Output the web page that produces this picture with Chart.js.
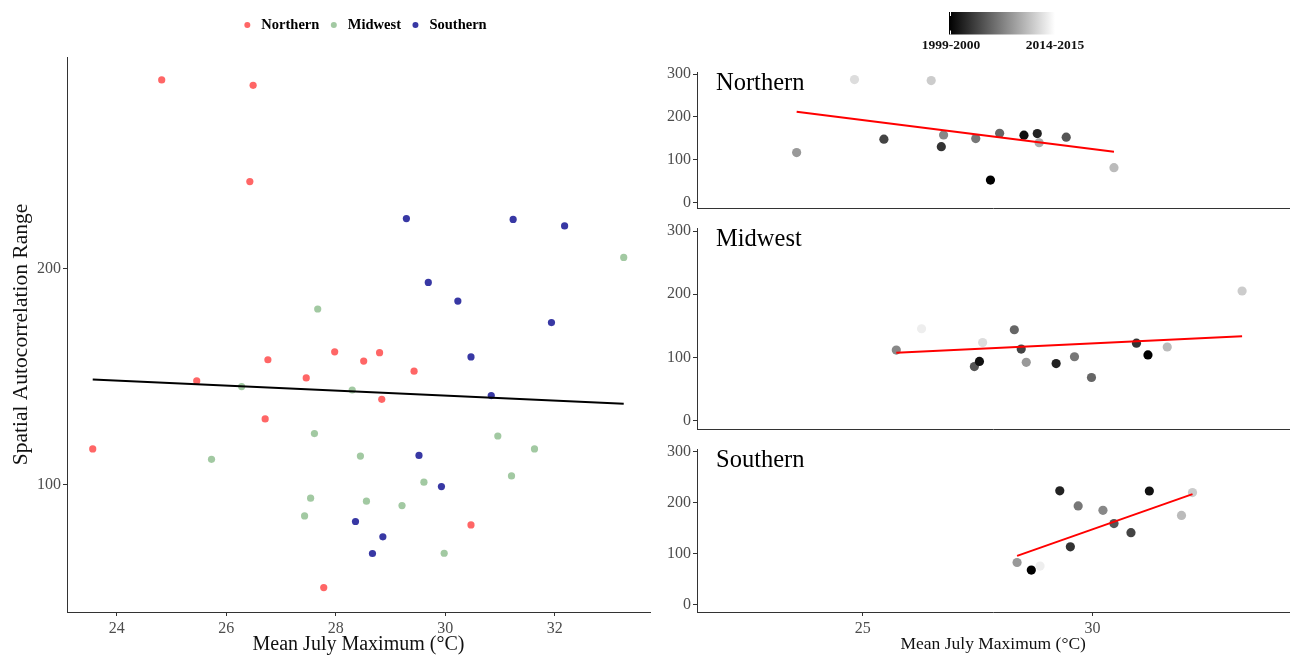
<!DOCTYPE html>
<html>
<head>
<meta charset="utf-8">
<script src="https://cdn.jsdelivr.net/npm/chart.js@4.4.1/dist/chart.umd.min.js"></script>
<style>
  body { margin: 0; background: #fff; }
  #wrap { position: relative; width: 1294px; height: 658px; }
  .box { position: absolute; }
</style>
</head>
<body>
<div id="wrap">
  <div class="box" style="left:0;top:0"><canvas id="allChart" width="660" height="658"></canvas></div>
  <div class="box" style="left:660px;top:0"><canvas id="northChart" width="634" height="220"></canvas></div>
  <div class="box" style="left:660px;top:215px"><canvas id="midChart" width="634" height="226"></canvas></div>
  <div class="box" style="left:660px;top:436px"><canvas id="southChart" width="634" height="222"></canvas></div>
</div>
<script>
// seasons for the grey scale (0 = 1999-2000 ... 15 = 2014-2015)
const seasons = ['1999-2000', '2000-2001', '2001-2002', '2002-2003', '2003-2004', '2004-2005', '2005-2006', '2006-2007',
                 '2007-2008', '2008-2009', '2009-2010', '2010-2011', '2011-2012', '2012-2013', '2013-2014', '2014-2015'];
const regions = ['Northern', 'Midwest', 'Southern'];

const northernTemp   = [23.56, 24.82, 25.46, 26.49, 26.43, 26.71, 26.76, 27.46, 27.78, 27.98, 28.51, 28.80, 28.84, 29.43, 30.47];
const northernRange  = [116.5, 287.4, 148.0, 284.9, 240.3, 130.4, 157.8, 149.4, 52.3, 161.5, 157.2, 161.1, 139.5, 152.5, 81.3];
const northernSeason = [9, 13, 4, 12, 15, 3, 8, 7, 0, 6, 1, 2, 10, 5, 11];

const midwestTemp   = [25.73, 26.28, 27.43, 27.54, 27.61, 27.67, 28.30, 28.45, 28.56, 29.21, 29.61, 29.98, 30.96, 31.21, 31.63, 33.26];
const midwestRange  = [111.7, 145.4, 85.5, 93.7, 123.6, 181.3, 143.8, 113.2, 92.3, 90.3, 101.1, 68.2, 122.5, 104.0, 116.5, 205.2];
const midwestSeason = [8, 14, 5, 1, 13, 15, 6, 4, 9, 2, 7, 6, 3, 0, 11, 12];

const southernTemp   = [28.36, 28.67, 28.86, 29.29, 29.52, 29.69, 29.93, 30.23, 30.47, 30.84, 31.24, 31.94, 32.18];
const southernRange  = [82.9, 68.1, 75.8, 223.2, 113.5, 193.6, 99.1, 185.0, 159.1, 141.2, 222.8, 175.0, 219.8];
const southernSeason = [9, 0, 14, 2, 3, 7, 15, 8, 5, 4, 1, 11, 12];

const xTicksLeft = [24, 26, 28, 30, 32];
const yTicksLeft = [100, 200];
const xTicksPanel = [25, 30];
const yTicksPanel = [0, 100, 200, 300];

const regionColors = ['#ff6666', '#a2c9a2', '#3838a4'];
const serif = '"Liberation Serif", "Times New Roman", serif';

function toPoints(xs, ys) {
    return xs.map((x, i) => ({ x: x, y: ys[i] }));
}

// least squares line over the range of x
function fitLine(xs, ys) {
    const n = xs.length;
    const mx = xs.reduce((a, b) => a + b, 0) / n;
    const my = ys.reduce((a, b) => a + b, 0) / n;
    let sxy = 0, sxx = 0;
    for (let i = 0; i < n; i++) {
        sxy += (xs[i] - mx) * (ys[i] - my);
        sxx += (xs[i] - mx) * (xs[i] - mx);
    }
    const b = sxy / sxx;
    const x0 = Math.min(...xs), x1 = Math.max(...xs);
    return [{ x: x0, y: my + b * (x0 - mx) }, { x: x1, y: my + b * (x1 - mx) }];
}

function greyFor(idx) {
    const g = Math.round(255 * idx / (seasons.length - 1));
    return `rgb(${g},${g},${g})`;
}

function fixTicks(values) {
    return scale => { scale.ticks = values.map(v => ({ value: v })); };
}

const axisColor = '#333333';
const tickFont = { family: serif, size: 16 };

// ---------- left chart: all regions ----------
const allTemp = northernTemp.concat(midwestTemp, southernTemp);
const allRange = northernRange.concat(midwestRange, southernRange);

const legendPlugin = {
    id: 'topLegend',
    afterDraw(chart) {
        const ctx = chart.ctx;
        ctx.save();
        ctx.font = 'bold 14.5px ' + serif;
        ctx.textBaseline = 'middle';
        const widths = regions.map(r => ctx.measureText(r).width);
        const gapDot = 14, gapNext = 14.5;
        let total = 3;
        widths.forEach((w, i) => { total += gapDot + w + (i < widths.length - 1 ? gapNext : 0); });
        let x = 365.5 - total / 2 + 3;
        const y = 25;
        regions.forEach((r, i) => {
            ctx.fillStyle = regionColors[i];
            ctx.beginPath();
            ctx.arc(x, y, 3, 0, Math.PI * 2);
            ctx.fill();
            ctx.fillStyle = '#000';
            ctx.fillText(r, x + gapDot, y);
            x += gapDot + widths[i] + gapNext;
        });
        ctx.restore();
    }
};

new Chart(document.getElementById('allChart'), {
    type: 'scatter',
    data: {
        datasets: [
            {
                type: 'line', label: 'fit', data: fitLine(allTemp, allRange), order: 0,
                borderColor: '#000', borderWidth: 1.8, pointRadius: 0, fill: false
            },
            { label: regions[0], data: toPoints(northernTemp, northernRange), order: 1, backgroundColor: regionColors[0], pointRadius: 3.6, pointBorderWidth: 0 },
            { label: regions[1], data: toPoints(midwestTemp, midwestRange), order: 1, backgroundColor: regionColors[1], pointRadius: 3.6, pointBorderWidth: 0 },
            { label: regions[2], data: toPoints(southernTemp, southernRange), order: 1, backgroundColor: regionColors[2], pointRadius: 3.6, pointBorderWidth: 0 }
        ]
    },
    options: {
        responsive: false,
        animation: false,
        layout: { padding: { top: 57, right: 10, left: 0, bottom: 0 } },
        plugins: { legend: { display: false }, tooltip: { enabled: false } },
        scales: {
            x: {
                type: 'linear', min: 23.09, max: 33.74,
                afterBuildTicks: fixTicks(xTicksLeft),
                afterFit: s => { s.height = 46; },
                ticks: { color: '#4d4d4d', font: tickFont, padding: 3 },
                grid: { display: true, drawOnChartArea: false, drawTicks: true, tickLength: 4, color: axisColor },
                border: { display: true, color: axisColor, width: 1 },
                title: { display: true, text: 'Mean July Maximum (°C)', color: '#111', font: { family: serif, size: 20 }, padding: { top: 0, bottom: 1 } }
            },
            y: {
                type: 'linear', min: 41, max: 298,
                afterBuildTicks: fixTicks(yTicksLeft),
                afterFit: s => { s.width = 67; },
                ticks: { color: '#4d4d4d', font: tickFont, padding: 2 },
                grid: { display: true, drawOnChartArea: false, drawTicks: true, tickLength: 4, color: axisColor },
                border: { display: true, color: axisColor, width: 1 },
                title: { display: true, text: 'Spatial Autocorrelation Range', color: '#111', font: { family: serif, size: 21.5 }, padding: { top: 8, bottom: 0 } }
            }
        }
    },
    plugins: [legendPlugin]
});

// ---------- right panels, one per region ----------
const colorbarPlugin = {
    id: 'colorbar',
    afterDraw(chart) {
        const ctx = chart.ctx;
        const x0 = 289, x1 = 395, y0 = 12, y1 = 34.5;
        ctx.save();
        const grad = ctx.createLinearGradient(x0, 0, x1, 0);
        grad.addColorStop(0, '#000');
        grad.addColorStop(1, '#fff');
        ctx.fillStyle = grad;
        ctx.fillRect(x0, y0, x1 - x0, y1 - y0);
        ctx.strokeStyle = '#fff';
        ctx.lineWidth = 1;
        ctx.beginPath();
        ctx.moveTo(x0 + 1.5, y0); ctx.lineTo(x0 + 1.5, y0 + 4);
        ctx.moveTo(x0 + 1.5, y1 - 4); ctx.lineTo(x0 + 1.5, y1);
        ctx.stroke();
        ctx.fillStyle = '#111';
        ctx.font = 'bold 13.5px ' + serif;
        ctx.textAlign = 'center';
        ctx.textBaseline = 'middle';
        ctx.fillText(seasons[0], x0 + 2, 46);
        ctx.fillText(seasons[seasons.length - 1], x1, 46);
        ctx.restore();
    }
};

function panelLabel(text) {
    return {
        id: 'panelLabel',
        afterDraw(chart) {
            const ctx = chart.ctx;
            ctx.save();
            ctx.font = '24.5px ' + serif;
            ctx.fillStyle = '#000';
            ctx.textBaseline = 'alphabetic';
            ctx.fillText(text, chart.chartArea.left + 19, chart.chartArea.top + 18);
            ctx.restore();
        }
    };
}

function makePanel(canvasId, name, xs, ys, season, padTop, showX, extra) {
    const plugins = [panelLabel(name)];
    if (extra) plugins.push(extra);
    return new Chart(document.getElementById(canvasId), {
        type: 'scatter',
        data: {
            datasets: [
                {
                    type: 'line', label: 'fit', data: fitLine(xs, ys), order: 0,
                    borderColor: '#ff0000', borderWidth: 2, pointRadius: 0, fill: false
                },
                {
                    label: name, data: toPoints(xs, ys), order: 1,
                    backgroundColor: season.map(greyFor), pointRadius: 4.6, pointBorderWidth: 0
                }
            ]
        },
        options: {
            responsive: false,
            animation: false,
            layout: { padding: { top: padTop, right: 4, left: 0, bottom: 0 } },
            plugins: { legend: { display: false }, tooltip: { enabled: false } },
            scales: {
                x: {
                    type: 'linear', min: 21.39, max: 34.29,
                    afterBuildTicks: fixTicks(xTicksPanel),
                    afterFit: s => { s.height = showX ? 46 : 3; },
                    ticks: { display: showX, color: '#4d4d4d', font: tickFont, padding: 3 },
                    grid: { display: showX, drawOnChartArea: false, drawTicks: true, tickLength: 4, color: axisColor },
                    border: { display: true, color: axisColor, width: 1 },
                    title: { display: showX, text: 'Mean July Maximum (°C)', color: '#111', font: { family: serif, size: 17.5 }, padding: { top: 0, bottom: 3 } }
                },
                y: {
                    type: 'linear', min: -14, max: 305,
                    afterBuildTicks: fixTicks(yTicksPanel),
                    afterFit: s => { s.width = 37; },
                    ticks: { color: '#4d4d4d', font: tickFont, padding: 2 },
                    grid: { display: true, drawOnChartArea: false, drawTicks: true, tickLength: 4, color: axisColor },
                    border: { display: true, color: axisColor, width: 1 }
                }
            }
        },
        plugins: plugins
    });
}

makePanel('northChart', regions[0], northernTemp, northernRange, northernSeason, 72, false, colorbarPlugin);
makePanel('midChart', regions[1], midwestTemp, midwestRange, midwestSeason, 13, false, null);
makePanel('southChart', regions[2], southernTemp, southernRange, southernSeason, 13, true, null);
</script>
</body>
</html>
